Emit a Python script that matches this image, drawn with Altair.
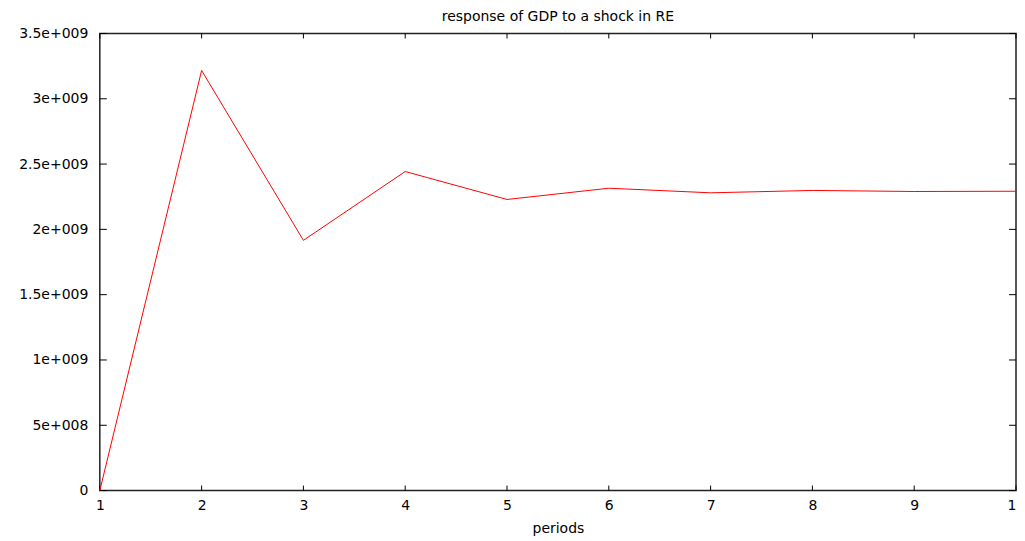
import altair as alt
import pandas as pd

periods = [1, 2, 3, 4, 5, 6, 7, 8, 9, 10]
response = [0.0, 3.217e9, 1.916e9, 2.443e9, 2.229e9, 2.315e9, 2.280e9, 2.298e9, 2.290e9, 2.292e9]

x_ticks = [1, 2, 3, 4, 5, 6, 7, 8, 9, 10]
y_ticks = [0, 5e8, 1e9, 1.5e9, 2e9, 2.5e9, 3e9, 3.5e9]
y_tick_labels = ["0", "5e+008", "1e+009", "1.5e+009", "2e+009", "2.5e+009", "3e+009", "3.5e+009"]

title_text = "response of GDP to a shock in RE"
x_title = "periods"

W, H = 918, 458
FONT = "DejaVu Sans"
FS = 14

df = pd.DataFrame({"period": periods, "value": response})
xt = pd.DataFrame({"t": x_ticks})
yt = pd.DataFrame({"t": y_ticks})

label_expr = "".join(f"datum.value == {v} ? '{l}' : " for v, l in zip(y_ticks, y_tick_labels)) + "''"

xscale = alt.Scale(domain=[1, 10], nice=False, zero=False)
yscale = alt.Scale(domain=[0, 3.5e9], nice=False, zero=False)

xaxis = alt.Axis(values=x_ticks, format="d", ticks=False, domain=False, grid=False, labelFont=FONT,
                 labelFontSize=FS, labelColor="black", labelPadding=8, title=x_title,
                 titleFont=FONT, titleFontSize=FS, titleFontWeight="normal", titleColor="black",
                 titlePadding=9, labelFlush=False)
yaxis = alt.Axis(values=y_ticks, ticks=False, domain=False, grid=False, labelFont=FONT,
                 labelFontSize=FS, labelColor="black", labelPadding=12, labelExpr=label_expr,
                 title=None)

line = alt.Chart(df).mark_line(color="#ff0000", strokeWidth=1).encode(
    x=alt.X("period:Q", scale=xscale, axis=xaxis),
    y=alt.Y("value:Q", scale=yscale, axis=yaxis),
)

tick_style = dict(color="black", strokeWidth=1)
bottom_ticks = alt.Chart(xt).mark_rule(**tick_style).encode(
    x=alt.X("t:Q", scale=xscale), y=alt.value(H), y2=alt.value(H - 5))
top_ticks = alt.Chart(xt).mark_rule(**tick_style).encode(
    x=alt.X("t:Q", scale=xscale), y=alt.value(0), y2=alt.value(5))
left_ticks = alt.Chart(yt).mark_rule(**tick_style).encode(
    y=alt.Y("t:Q", scale=yscale), x=alt.value(0), x2=alt.value(7))
right_ticks = alt.Chart(yt).mark_rule(**tick_style).encode(
    y=alt.Y("t:Q", scale=yscale), x=alt.value(W), x2=alt.value(W - 7))

chart = alt.layer(bottom_ticks, top_ticks, left_ticks, right_ticks, line).properties(
    width=W, height=H,
    title=alt.TitleParams(text=title_text, anchor="middle", font=FONT, fontSize=FS,
                          fontWeight="normal", color="black", offset=2),
    autosize=alt.AutoSizeParams(type="none"),
    padding={"left": 92, "top": 25, "right": 1, "bottom": 46},
).configure(background="white").configure_view(stroke="#222222", strokeWidth=1.5)

chart.save("out.html", embed_options={"renderer": "svg", "actions": False})
